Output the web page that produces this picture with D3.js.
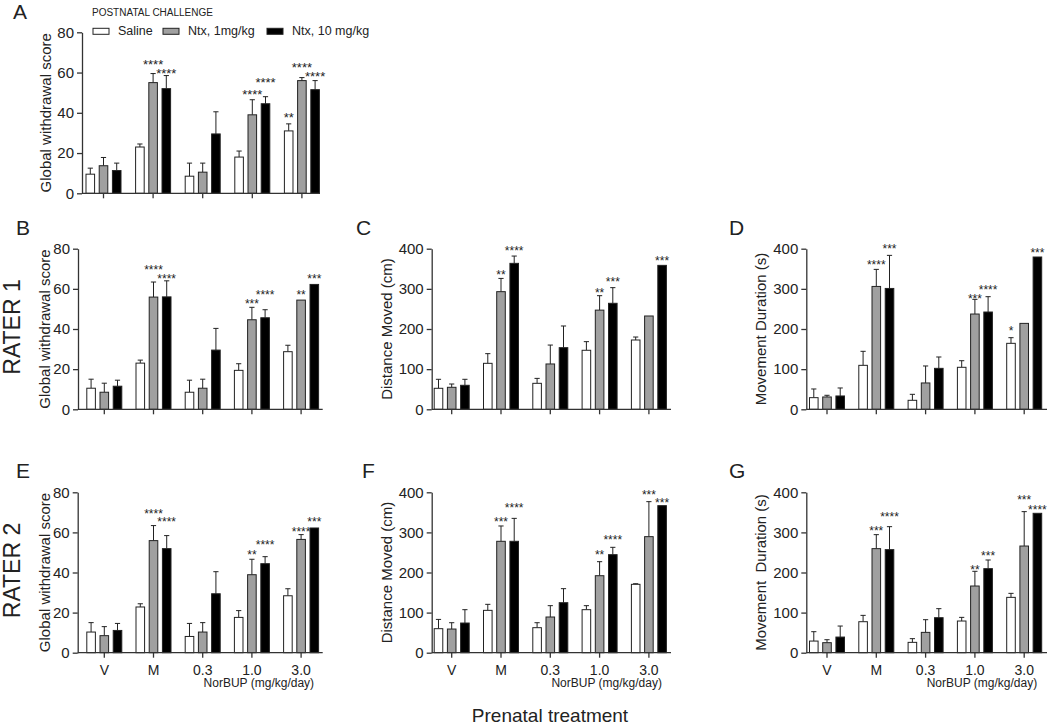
<!DOCTYPE html>
<html><head><meta charset="utf-8">
<script src="https://cdn.jsdelivr.net/npm/d3@7"></script>
<style>
body{margin:0;background:#fff;}
svg{display:block;font-family:Arial,"Liberation Sans",Helvetica,sans-serif;}
</style></head><body>
<svg id="chart" width="1050" height="726"></svg>
<script>
// ---------- DATA ----------
const groups = ["V", "M", "0.3", "1.0", "3.0"];
const seriesNames = ["Saline", "Ntx, 1mg/kg", "Ntx, 10 mg/kg"];
const legendTitle = "POSTNATAL CHALLENGE";
const xSubLabel = "NorBUP (mg/kg/day)";
const xMainLabel = "Prenatal treatment";
const rowLabels = ["RATER 1", "RATER 2"];
const scoreTicks = [0, 20, 40, 60, 80];
const secTicks = [0, 100, 200, 300, 400];

// Panel A – Global withdrawal score
const aSaline = [9.5, 23, 8.5, 18, 31],      aSalineErr = [3, 1.5, 6.5, 3, 3.5];
const aNtx1   = [13.7, 55, 10.5, 39, 56],    aNtx1Err   = [4.1, 4.5, 4.5, 7.5, 1.5];
const aNtx10  = [11.3, 52, 29.5, 44.5, 51.5],aNtx10Err  = [3.7, 6.5, 11, 3.5, 4.5];
const aStars  = [["", "", "", "", "**"], ["", "****", "", "****", "****"], ["", "****", "", "****", "****"]];
const aStarLv = [[0, 0, 0, 0, 38.4], [0, 64.6, 0, 50, 63.2], [0, 60.4, 0, 55.5, 58.8]];

// Panel B – Rater 1 global withdrawal score
const bSaline = [10.5, 23, 8.5, 19.4, 28.7],   bSalineErr = [4.5, 1.5, 6, 3.3, 3.2];
const bNtx1   = [8.5, 55.9, 10.5, 44.6, 54.4], bNtx1Err   = [4.5, 7.5, 4.5, 6.2, 0];
const bNtx10  = [11.5, 56, 29.5, 45.6, 62.2],  bNtx10Err  = [3, 8, 10.8, 4, 0];
const bStars  = [["", "", "", "", ""], ["", "****", "", "***", "**"], ["", "****", "", "****", "***"]];
const bStarLv = [[0, 0, 0, 0, 0], [0, 69.9, 0, 53.1, 57.4], [0, 65.7, 0, 57.4, 65.7]];

// Panel C – Rater 1 distance moved
const cSaline = [52.3, 114.5, 64.7, 147, 172.6], cSalineErr = [22.4, 24.1, 12.3, 21.5, 7.4];
const cNtx1   = [54.8, 293, 112.9, 247, 232.4],  cNtx1Err   = [8.2, 33, 47.1, 36, 0];
const cNtx10  = [59.8, 363.5, 153.5, 264, 358.5],cNtx10Err  = [14.9, 18.2, 54, 39, 0];
const cStars  = [["", "", "", "", ""], ["", "**", "", "**", ""], ["", "****", "", "***", "***"]];
const cStarLv = [[0, 0, 0, 0, 0], [0, 337, 0, 293, 0], [0, 396.7, 0, 320, 371.8]];

// Panel D – Rater 1 movement duration
const dSaline = [29, 109.5, 22.4, 104.6, 164.3], dSalineErr = [21.6, 34.9, 14.9, 16.4, 14.1];
const dNtx1   = [30.7, 306, 65.6, 237.3, 214],   dNtx1Err   = [4.2, 42.5, 42.3, 36.6, 0];
const dNtx10  = [33.2, 301, 102, 242.3, 379.3],  dNtx10Err  = [19.9, 82.4, 28.3, 38.2, 0];
const dStars  = [["", "", "", "", "*"], ["", "****", "", "***", ""], ["", "***", "", "****", "***"]];
const dStarLv = [[0, 0, 0, 0, 197.5], [0, 361.8, 0, 278.8, 0], [0, 403, 0, 301, 392.5]];

// Panel E – Rater 2 global withdrawal score
const eSaline = [10.3, 22.8, 8.1, 17.6, 28.4],  eSalineErr = [4.7, 1.6, 6.5, 3.4, 3.5];
const eNtx1   = [8.5, 55.9, 10.3, 38.9, 56.5],  eNtx1Err   = [4.5, 7.5, 4.7, 7.7, 2.4];
const eNtx10  = [11.1, 51.9, 29.4, 44.4, 62.2], eNtx10Err  = [3.5, 6.5, 11, 3.5, 0];
const eStars  = [["", "", "", "", ""], ["", "****", "", "**", "****"], ["", "****", "", "****", "***"]];
const eStarLv = [[0, 0, 0, 0, 0], [0, 69.9, 0, 49.6, 60.9], [0, 65.9, 0, 54.2, 65.9]];

// Panel F – Rater 2 distance moved
const fSaline = [59.9, 105.6, 62.4, 107.3, 170.5], fSalineErr = [23.1, 15, 12.4, 10, 1.5];
const fNtx1   = [59, 277.8, 89, 192, 289.4],       fNtx1Err   = [15.8, 38.2, 28.3, 35, 87.3];
const fNtx10  = [74, 277.8, 124.7, 244.5, 366.7],  fNtx10Err  = [33.3, 57.2, 35, 18.3, 0];
const fStars  = [["", "", "", "", ""], ["", "***", "", "**", "***"], ["", "****", "", "****", "***"]];
const fStarLv = [[0, 0, 0, 0, 0], [0, 329.3, 0, 246.2, 397.5], [0, 364.2, 0, 283.6, 377.5]];

// Panel G – Rater 2 movement duration
const gSaline = [29, 77.3, 25.8, 79, 138],        gSalineErr = [23.4, 15.8, 9.2, 9.1, 10];
const gNtx1   = [25, 259.5, 50.7, 166.3, 266],    gNtx1Err   = [7.4, 34.9, 31.6, 36.7, 85.8];
const gNtx10  = [39, 257, 87.3, 209.6, 347.6],    gNtx10Err  = [27.5, 57.3, 22.5, 21.6, 0];
const gStars  = [["", "", "", "", ""], ["", "***", "", "**", "***"], ["", "****", "", "***", "****"]];
const gStarLv = [[0, 0, 0, 0, 0], [0, 306, 0, 210.4, 383.4], [0, 341, 0, 243.7, 358.4]];

// ---------- LAYOUT ----------
const panels = [
  {id:"A", means:[aSaline,aNtx1,aNtx10], errs:[aSalineErr,aNtx1Err,aNtx10Err], stars:aStars, starLv:aStarLv,
   yMax:80, ticks:scoreTicks, yLabel:"Global withdrawal score",
   left:82, right:320, top:32.3, bottom:193.3, c0:103.5, step:49.6, letterX:13, letterY:18.5, titleX:51, starFs:13, xLabels:false},
  {id:"B", means:[bSaline,bNtx1,bNtx10], errs:[bSalineErr,bNtx1Err,bNtx10Err], stars:bStars, starLv:bStarLv,
   yMax:80, ticks:scoreTicks, yLabel:"Global withdrawal score",
   left:78, right:322.7, top:248.7, bottom:409.3, c0:104.3, step:49.2, letterX:16, letterY:235, titleX:50, starFs:12, xLabels:false},
  {id:"C", means:[cSaline,cNtx1,cNtx10], errs:[cSalineErr,cNtx1Err,cNtx10Err], stars:cStars, starLv:cStarLv,
   yMax:400, ticks:secTicks, yLabel:"Distance Moved (cm)",
   left:431.7, right:671, top:248.7, bottom:409.3, c0:451.7, step:49.3, letterX:356, letterY:235, titleX:392, starFs:12, xLabels:false},
  {id:"D", means:[dSaline,dNtx1,dNtx10], errs:[dSalineErr,dNtx1Err,dNtx10Err], stars:dStars, starLv:dStarLv,
   yMax:400, ticks:secTicks, yLabel:"Movement Duration (s)",
   left:806.3, right:1047, top:248.7, bottom:409.3, c0:827, step:49.3, letterX:729, letterY:235, titleX:766, starFs:12, xLabels:false},
  {id:"E", means:[eSaline,eNtx1,eNtx10], errs:[eSalineErr,eNtx1Err,eNtx10Err], stars:eStars, starLv:eStarLv,
   yMax:80, ticks:scoreTicks, yLabel:"Global withdrawal score",
   left:77.7, right:322.7, top:492.3, bottom:652.7, c0:104.3, step:49.2, letterX:16, letterY:478, titleX:50, starFs:12, xLabels:true},
  {id:"F", means:[fSaline,fNtx1,fNtx10], errs:[fSalineErr,fNtx1Err,fNtx10Err], stars:fStars, starLv:fStarLv,
   yMax:400, ticks:secTicks, yLabel:"Distance Moved (cm)",
   left:431.7, right:671, top:492.3, bottom:652.7, c0:451.7, step:49.3, letterX:362, letterY:478, titleX:392, starFs:12, xLabels:true},
  {id:"G", means:[gSaline,gNtx1,gNtx10], errs:[gSalineErr,gNtx1Err,gNtx10Err], stars:gStars, starLv:gStarLv,
   yMax:400, ticks:secTicks, yLabel:"Movement  Duration (s)",
   left:806.3, right:1047, top:492.3, bottom:652.7, c0:827, step:49.3, letterX:729, letterY:478, titleX:766, starFs:12, xLabels:true}
];

const fills = ["#ffffff", "#a0a0a0", "#000000"];
const ink = "#222";
const svg = d3.select("#chart");

panels.forEach(p => {
  const g = svg.append("g");
  const y = d3.scaleLinear().domain([0, p.yMax]).range([p.bottom, p.top]);
  const x = d3.scaleBand().domain(groups).range([p.c0 - p.step / 2, p.c0 + 4.5 * p.step]);
  const xi = d3.scaleBand().domain(seriesNames).range([-17.5, 17.5]).paddingInner(0.35);
  const cx = gname => x(gname) + x.bandwidth() / 2;

  const recs = [];
  seriesNames.forEach((s, si) => groups.forEach((gn, gi) => {
    recs.push({s, si, gn, v: p.means[si][gi], e: p.errs[si][gi], st: p.stars[si][gi], lv: p.starLv[si][gi]});
  }));

  // error bars (upper only)
  const eb = g.append("g").attr("stroke", ink).attr("stroke-width", 1).attr("fill", "none");
  recs.filter(d => d.e > 0).forEach(d => {
    const bx = cx(d.gn) + xi(d.s) + xi.bandwidth() / 2;
    eb.append("line").attr("x1", bx).attr("x2", bx).attr("y1", y(d.v)).attr("y2", y(d.v + d.e));
    eb.append("line").attr("x1", bx - 2.6).attr("x2", bx + 2.6).attr("y1", y(d.v + d.e)).attr("y2", y(d.v + d.e));
  });

  g.append("g").selectAll("rect").data(recs).join("rect")
    .attr("x", d => cx(d.gn) + xi(d.s))
    .attr("width", xi.bandwidth())
    .attr("y", d => y(d.v))
    .attr("height", d => y(0) - y(d.v))
    .attr("fill", d => fills[d.si])
    .attr("stroke", ink)
    .attr("stroke-width", 1);

  // significance stars
  g.append("g").selectAll("text").data(recs.filter(d => d.st)).join("text")
    .attr("x", d => cx(d.gn) + xi(d.s) + xi.bandwidth() / 2)
    .attr("y", d => y(d.lv))
    .attr("dy", "0.45em")
    .attr("text-anchor", "middle")
    .attr("font-size", p.starFs)
    .attr("fill", ink)
    .text(d => d.st);

  // y axis
  const ya = g.append("g").attr("transform", `translate(${p.left},0)`)
    .call(d3.axisLeft(y).tickValues(p.ticks).tickSize(5).tickSizeOuter(0).tickPadding(3));
  ya.select(".domain").attr("stroke", "#333").attr("stroke-width", 1.3);
  ya.selectAll(".tick line").attr("stroke", "#333").attr("stroke-width", 1.3);
  ya.selectAll(".tick text").attr("font-size", 15).attr("fill", ink).attr("font-family", null);

  // x axis
  const xa = g.append("g").attr("transform", `translate(0,${p.bottom})`)
    .call(d3.axisBottom(x).tickSize(5).tickSizeOuter(0).tickPadding(7)
      .tickFormat(p.xLabels ? (d => d) : () => ""));
  xa.select(".domain").remove();
  xa.selectAll(".tick line").attr("stroke", "#333").attr("stroke-width", 1.3);
  xa.selectAll(".tick text").attr("font-size", 14).attr("fill", ink).attr("font-family", null);
  g.append("line").attr("x1", p.left).attr("x2", p.right).attr("y1", p.bottom).attr("y2", p.bottom)
    .attr("stroke", "#333").attr("stroke-width", 1.3);

  if (p.xLabels) {
    g.append("text").attr("x", cx("3.0") + 13).attr("y", p.bottom + 34)
      .attr("text-anchor", "end").attr("font-size", 12).attr("fill", ink).text(xSubLabel);
  }

  // y title
  g.append("text")
    .attr("transform", `translate(${p.titleX},${(p.top + p.bottom) / 2}) rotate(-90)`)
    .attr("text-anchor", "middle").attr("font-size", 15).attr("fill", ink)
    .style("white-space", "pre")
    .text(p.yLabel);

  // panel letter
  g.append("text").attr("x", p.letterX).attr("y", p.letterY)
    .attr("font-size", 21).attr("fill", ink).text(p.id);
});

// row labels
[panels[1], panels[4]].forEach((p, i) => {
  svg.append("text")
    .attr("transform", `translate(20,${(p.top + p.bottom) / 2 - 2}) rotate(-90)`)
    .attr("text-anchor", "middle").attr("font-size", 23).attr("fill", ink)
    .text(rowLabels[i]);
});

// legend
const lg = svg.append("g");
lg.append("text").attr("x", 92).attr("y", 15.5).attr("font-size", 10).attr("fill", ink).text(legendTitle);
const legX = d3.scaleOrdinal().domain(seriesNames).range([93, 163, 267]);
seriesNames.forEach((s, i) => {
  lg.append("rect").attr("x", legX(s)).attr("y", 28.3).attr("width", 16).attr("height", 6)
    .attr("fill", fills[i]).attr("stroke", ink).attr("stroke-width", 1);
  lg.append("text").attr("x", legX(s) + 25).attr("y", 35).attr("font-size", 12.5).attr("fill", ink).text(s);
});

// bottom title
svg.append("text").attr("x", 550).attr("y", 722).attr("text-anchor", "middle")
  .attr("font-size", 19).attr("fill", ink).text(xMainLabel);
</script>
</body></html>
